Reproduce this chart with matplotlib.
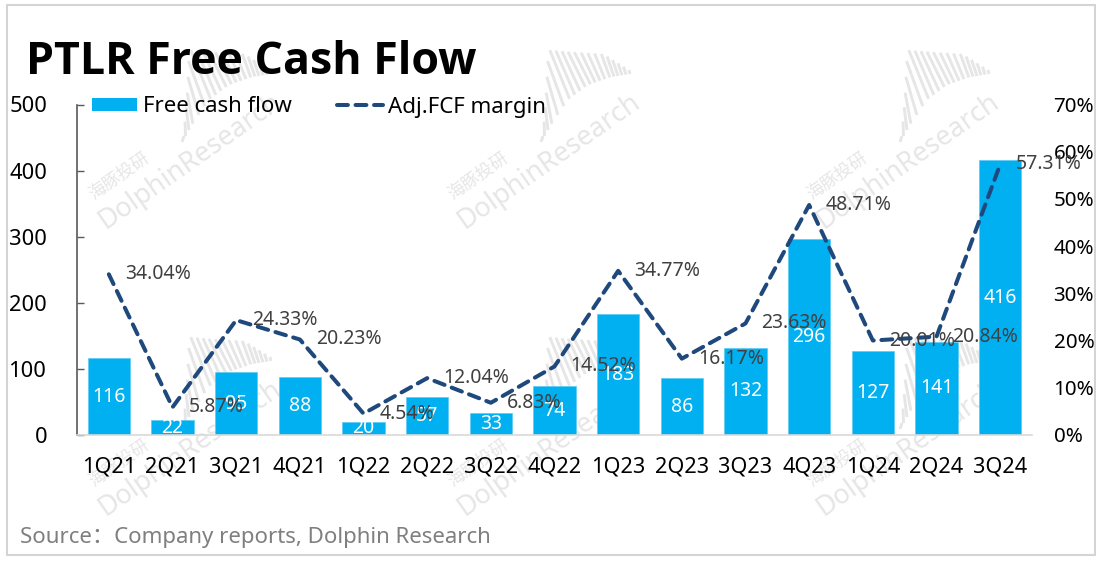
import matplotlib
matplotlib.use('Agg')
import matplotlib.pyplot as plt
from matplotlib.lines import Line2D
from matplotlib.patches import Rectangle, Patch
import numpy as np

plt.rcParams['font.family'] = ['Noto Sans', 'Noto Sans CJK SC', 'DejaVu Sans']

quarters = ['1Q21', '2Q21', '3Q21', '4Q21', '1Q22', '2Q22', '3Q22', '4Q22',
            '1Q23', '2Q23', '3Q23', '4Q23', '1Q24', '2Q24', '3Q24']
fcf = [116, 22, 95, 88, 20, 57, 33, 74, 183, 86, 132, 296, 127, 141, 416]
margin = [34.04, 5.87, 24.33, 20.23, 4.54, 12.04, 6.83, 14.52,
          34.77, 16.17, 23.63, 48.71, 20.01, 20.84, 57.31]
left_ticks = [0, 100, 200, 300, 400, 500]
right_ticks = [0, 10, 20, 30, 40, 50, 60, 70]

W, H = 1096, 562
fig = plt.figure(figsize=(W / 100, H / 100), dpi=100)

# watermarks go under the chart so the bars cover them
back = fig.add_axes([0, 0, 1, 1], zorder=0)
back.set_xlim(0, W)
back.set_ylim(H, 0)
back.axis('off')
wm_color = '#E6E6E6'
# outline of the sound-wave logo, pixels from its top-left corner
logo_t = [0, 0.15, 0.3, 0.5, 0.75, 1]
logo_base_x = [10, 20, 37, 57, 80, 99]
logo_base_y = [112, 95, 70, 55, 47, 44]
logo_top_x = [12, 15, 17, 40, 72, 98]
logo_top_y = [106, 65, 20, 22, 24, 40]
for cx in [0, 359, 718]:
    for cy in [0, 287]:
        back.text(105 + cx, 229 + cy, 'DolphinResearch', fontsize=19.5, color=wm_color,
                  rotation=35, rotation_mode='anchor', ha='left', va='baseline')
        back.text(94 + cx, 200 + cy, '海豚投研', fontsize=12.5, color=wm_color,
                  rotation=35, rotation_mode='anchor', ha='left', va='baseline')
        for t in np.linspace(0, 1, 20):
            bx = np.interp(t, logo_t, logo_base_x) + 172 + cx
            by = np.interp(t, logo_t, logo_base_y) + 30 + cy
            tx = np.interp(t, logo_t, logo_top_x) + 172 + cx
            ty = np.interp(t, logo_t, logo_top_y) + 30 + cy
            back.plot([bx, tx], [by, ty], color=wm_color, lw=2.1, solid_capstyle='butt')

# axes placed by pixel, y measured from the top of the picture
L, R, T, B = 77, 1032, 104.5, 435
ax = fig.add_axes([L / W, 1 - B / H, (R - L) / W, (B - T) / H], zorder=1)
ax.patch.set_alpha(0)
ax2 = ax.twinx()

x = np.arange(len(quarters))
bars = ax.bar(x, fcf, width=0.66, color='#00B0F0', edgecolor='#5CCBF5', linewidth=0.5,
              label='Free cash flow', zorder=2)
ax.bar_label(bars, labels=[str(v) for v in fcf], label_type='center', color='white', fontsize=14)
ax.set_xlim(-0.5, len(quarters) - 0.5)
ax.set_ylim(0, 500)
ax.set_yticks(left_ticks)
ax.set_xticks(x, quarters)
ax.tick_params(axis='x', length=0, pad=15.5, labelsize=15.6, colors='black')
ax.tick_params(axis='y', direction='in', length=5, width=1, color='#595959', pad=21.5, labelsize=15.8)
for s in ['top', 'right']:
    ax.spines[s].set_visible(False)
ax.spines['left'].set_color('#595959')
ax.spines['left'].set_linewidth(1.2)
ax.spines['bottom'].set_color('#D9D9D9')
ax.spines['bottom'].set_linewidth(1.2)

ax2.plot(x, margin, color='#1F497D', lw=2.9, dashes=(2.7, 1.9), dash_capstyle='round',
         dash_joinstyle='round', label='Adj.FCF margin', zorder=3)
ax2.set_ylim(0, 70)
ax2.set_yticks(right_ticks, [f'{v}%' for v in right_ticks])
ax2.tick_params(axis='y', length=0, pad=15.5, labelsize=14.8, colors='black')
for s in ['top', 'right', 'left', 'bottom']:
    ax2.spines[s].set_visible(False)
for xi, m in zip(x, margin):
    ax2.annotate(f'{m:.2f}%', xy=(xi, m), xytext=(16, 0), textcoords='offset pixels',
                 ha='left', va='center', color='#404040', fontsize=14, annotation_clip=False)

handles = [Patch(facecolor='#00B0F0', label='Free cash flow'),
           Line2D([0], [0], color='#1F497D', lw=2.9, dashes=(2.7, 1.9), dash_capstyle='round',
                  label='Adj.FCF margin')]
fig.legend(handles=handles, loc='center left', bbox_to_anchor=(74 / W, 1 - 107 / H), ncols=2,
           frameon=False, fontsize=16, handlelength=2.05, handleheight=0.55,
           handletextpad=0.25, columnspacing=2.05, borderpad=0.3, labelcolor='black')

# overlay in pixel coordinates for border, title and source
over = fig.add_axes([0, 0, 1, 1], zorder=5)
over.set_xlim(0, W)
over.set_ylim(H, 0)
over.axis('off')
over.patch.set_alpha(0)
over.add_patch(Rectangle((6.5, 5), 1088.5, 550, fill=False, edgecolor='#D4D4D4', lw=1.5))
over.text(26, 62, 'PTLR Free Cash Flow', fontsize=32.2, fontweight='bold', color='black',
          family=['Open Sans', 'Noto Sans CJK SC'], ha='left', va='center')
over.text(20, 538, 'Source：Company reports, Dolphin Research', fontsize=16, color='#7F7F7F',
          ha='left', va='center')

fig.savefig('out.png', dpi=100)
